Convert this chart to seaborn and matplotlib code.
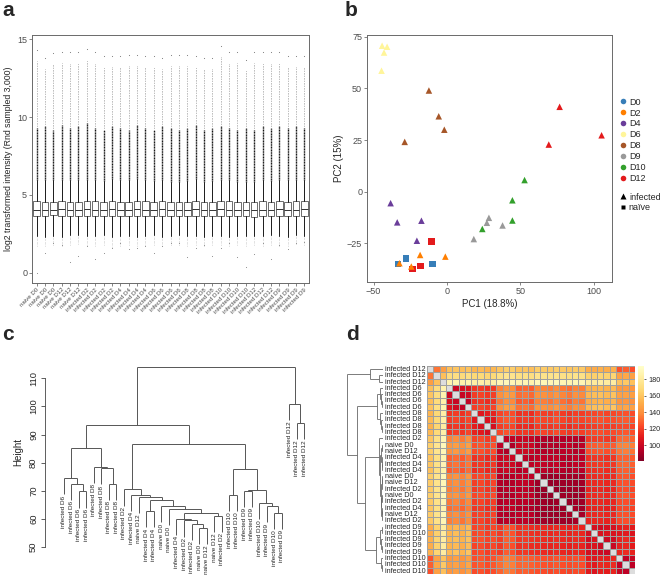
import numpy as np
import pandas as pd
import seaborn as sns
import matplotlib.pyplot as plt
from matplotlib.lines import Line2D
from matplotlib.collections import LineCollection
from matplotlib.transforms import blended_transform_factory

sns.set_theme(style="white")
plt.rcParams['font.family'] = ['Liberation Sans', 'DejaVu Sans']

# ---------------- data ----------------
# a: boxplot summaries per array (log2 intensity)
a_labels = (["naive D0"] * 3 + ["naive D12"] * 3 + ["infected D2"] * 4 + ["infected D4"] * 4
            + ["infected D6"] * 4 + ["infected D8"] * 4 + ["infected D10"] * 4
            + ["infected D12"] * 3 + ["infected D9"] * 4)
a_q1 = [3.66, 3.65, 3.68, 3.66, 3.67, 3.64, 3.66, 3.65, 3.67, 3.64, 3.66, 3.65, 3.64, 3.66,
        3.65, 3.66, 3.64, 3.65, 3.66, 3.64, 3.66, 3.62, 3.65, 3.64, 3.66, 3.63, 3.56, 3.64,
        3.65, 3.66, 3.64, 3.66, 3.65]
a_med = [4.05, 4.04, 4.06, 4.08, 4.05, 4.06, 4.07, 4.06, 4.05, 4.08, 4.06, 4.05, 4.07, 4.06,
         4.05, 4.07, 4.05, 4.04, 4.06, 4.08, 4.05, 4.04, 4.07, 4.06, 4.05, 4.04, 4.02, 4.06,
         4.05, 4.07, 4.05, 4.06, 4.07]
a_q3 = [4.58, 4.55, 4.57, 4.60, 4.55, 4.56, 4.60, 4.58, 4.56, 4.60, 4.57, 4.55, 4.60, 4.58,
        4.57, 4.60, 4.56, 4.55, 4.57, 4.62, 4.57, 4.55, 4.58, 4.60, 4.56, 4.55, 4.52, 4.58,
        4.56, 4.58, 4.57, 4.60, 4.60]
a_whi = [5.96, 5.98, 5.95, 5.97, 5.95, 5.96, 5.98, 5.97, 5.92, 6.00, 5.95, 5.93, 6.02, 5.95,
         5.90, 5.94, 5.86, 5.85, 5.88, 6.00, 5.86, 5.90, 5.95, 5.94, 5.86, 5.86, 5.82, 5.98,
         5.88, 5.96, 5.98, 5.95, 5.98]
a_wlo = [2.33, 2.30, 2.36, 2.32, 2.40, 2.45, 2.38, 2.33, 2.40, 2.28, 2.35, 2.36, 2.30, 2.38,
         2.40, 2.32, 2.36, 2.40, 2.34, 2.36, 2.30, 2.36, 2.38, 2.30, 2.36, 2.35, 2.38, 2.34,
         2.40, 2.34, 2.30, 2.42, 2.38]
a_dense = [9.3, 9.4, 9.2, 9.5, 9.3, 9.4, 9.6, 9.3, 9.2, 9.4, 9.3, 9.2, 9.5, 9.3,
           9.2, 9.4, 9.3, 9.2, 9.3, 9.5, 9.2, 9.3, 9.4, 9.3, 9.2, 9.3, 9.2, 9.4,
           9.3, 9.4, 9.3, 9.4, 9.3]
a_max = [14.3, 13.8, 14.1, 14.2, 14.2, 14.2, 14.4, 14.2, 13.9, 13.9, 13.9, 14.0, 14.0, 13.9,
         13.9, 13.8, 14.0, 14.0, 14.0, 13.9, 13.8, 13.8, 14.6, 14.2, 14.2, 13.7, 14.2, 14.2,
         14.2, 14.2, 13.9, 13.9, 13.9]
a_min = [0.0, 1.3, 1.9, 1.8, 0.7, 1.1, 1.7, 0.9, 1.3, 1.6, 1.9, 1.5, 1.6, 1.7,
         1.3, 1.7, 1.9, 1.9, 1.0, 1.6, 1.8, 1.1, 1.6, 1.9, 1.0, 0.4, 1.2, 1.9,
         0.9, 1.8, 1.5, 1.9, 2.0]

# b: PCA
b_pc1 = [-27.9, -33.5, -9.8, -10.7, -17.9, -23.4, -18.3, -1.1, -32.4, -24.3,
         -38.4, -33.9, -17.4, -20.5, -44.2, -40.8, -42.9, -44.6, -12.3, -5.6, -1.8, -28.8,
         28.6, 27.2, 37.9, 18.3, 52.9, 44.6, 44.6, 24.1, 76.8, 105.4, 69.4]
b_pc2 = [-32.3, -35.0, -35.0, -24.2, -36.0, -37.6, -30.7, -31.5, -34.7, -36.3,
         -5.6, -14.9, -14.1, -23.8, 70.7, 70.2, 67.4, 58.6, 49.0, 36.5, 30.0, 24.1,
         -12.7, -15.1, -16.4, -23.0, 5.6, -4.2, -14.0, -18.1, 41.1, 27.3, 22.8]
b_day = (["D0"] * 3 + ["D12"] * 3 + ["D2"] * 4 + ["D4"] * 4 + ["D6"] * 4 + ["D8"] * 4
         + ["D9"] * 4 + ["D10"] * 4 + ["D12"] * 3)
b_status = ["naïve"] * 6 + ["infected"] * 27
day_order = ["D0", "D2", "D4", "D6", "D8", "D9", "D10", "D12"]
day_colors = ["#377EB8", "#FF7F00", "#6A3D9A", "#FFF59A", "#A65628", "#999999", "#33A02C", "#E31A1C"]

# c: hierarchical clustering (leaf order, merges: left, right, height)
c_labels = (["infected D6"] * 4 + ["infected D8"] * 4
            + ["infected D2", "infected D4", "naive D12", "infected D4", "infected D4", "naive D0",
               "naive D0", "infected D4", "infected D2", "infected D2", "naive D0", "naive D12",
               "naive D12", "infected D2", "infected D10", "infected D10", "infected D9",
               "infected D9", "infected D10", "infected D9", "infected D10", "infected D9",
               "infected D12", "infected D12", "infected D12"])
c_merges = [(2, 3, 69.8), (1, 33, 72.6), (0, 34, 74.6), (6, 7, 72.6), (5, 36, 78.1),
            (4, 37, 78.6), (35, 38, 85.4), (18, 19, 56.9), (17, 40, 58.3), (16, 41, 59.5),
            (15, 42, 60.1), (20, 21, 61.2), (43, 44, 62.1), (14, 45, 63.5), (13, 46, 64.5),
            (11, 12, 62.8), (48, 47, 66.6), (10, 49, 67.8), (9, 50, 68.6), (8, 51, 70.5),
            (22, 23, 68.6), (24, 25, 70.0), (28, 29, 62.3), (27, 55, 64.6), (26, 56, 65.8),
            (54, 57, 70.3), (53, 58, 77.9), (52, 59, 86.6), (39, 60, 93.3), (31, 32, 94.0),
            (30, 62, 100.8), (61, 63, 114.1)]

# d: sample distance heatmap (row order, lower triangle, row dendrogram)
d_labels = (["infected D12"] * 3 + ["infected D6"] * 4 + ["infected D8"] * 4
            + ["infected D2", "naive D0", "naive D12", "infected D4", "infected D4", "infected D4",
               "naive D0", "naive D12", "infected D2", "naive D0", "infected D2", "infected D4",
               "naive D12", "infected D2", "infected D9", "infected D10", "infected D9",
               "infected D9", "infected D9", "infected D10", "infected D10", "infected D10"])
d_lower = [
    "",
    "133",
    "145 158",
    "158 170 186",
    "160 171 187 100",
    "157 169 185 104 99",
    "159 172 187 107 102 97",
    "154 167 183 117 119 116 120",
    "156 168 184 119 121 118 122 108",
    "153 166 182 116 118 115 119 111 106",
    "155 168 184 118 120 117 121 112 109 104",
    "160 173 188 136 139 134 140 121 123 119 122",
    "164 176 190 142 145 140 146 124 126 122 125 96",
    "163 175 189 140 143 138 144 123 125 121 124 97 92",
    "159 172 187 128 131 126 132 116 118 114 117 99 101 100",
    "160 173 188 130 133 128 134 117 119 115 118 100 102 101 95",
    "158 171 186 127 130 125 131 115 117 113 116 98 100 99 94 96",
    "163 175 190 138 141 136 142 121 123 119 122 94 93 94 97 98 96",
    "162 174 189 137 140 135 141 120 122 118 121 93 92 93 96 97 95 88",
    "161 174 188 135 138 133 139 119 121 117 120 92 94 95 95 96 94 87 86",
    "163 175 190 139 142 137 143 122 124 120 123 95 92 93 97 98 96 88 87 86",
    "161 173 188 134 137 132 138 119 121 117 120 93 95 95 94 95 93 89 88 87 88",
    "160 172 187 131 134 129 135 117 119 115 118 95 97 97 93 94 92 90 89 88 89 87",
    "162 174 189 137 140 135 141 120 122 118 121 94 93 93 96 97 95 89 88 88 87 89 90",
    "161 173 188 135 138 133 139 119 121 117 120 93 95 95 95 96 94 90 89 89 89 88 89 90",
    "151 165 181 152 155 150 156 121 123 119 122 118 126 124 116 117 115 114 113 112 114 112 111 113 112",
    "150 164 180 154 157 152 158 122 124 120 123 119 127 125 117 118 116 115 114 113 115 113 112 114 113 104",
    "152 166 182 155 158 153 159 123 125 121 124 120 128 126 118 119 117 116 115 114 116 114 113 115 114 103 106",
    "151 165 181 153 156 151 157 121 123 119 122 118 126 124 116 117 115 114 113 112 114 112 111 113 112 105 107 101",
    "152 166 182 156 159 154 160 122 124 120 123 119 127 125 117 118 116 115 114 113 115 113 112 114 113 104 106 102 100",
    "125 147 159 143 146 141 147 124 126 122 125 130 136 134 128 129 127 125 124 123 125 123 122 124 123 110 108 112 111 113",
    "128 149 161 144 147 142 148 125 127 123 126 131 137 135 129 130 128 126 125 124 126 124 123 125 124 112 109 114 113 115 97",
    "124 146 158 142 145 140 146 123 125 121 124 129 135 133 127 128 126 124 123 122 124 122 121 123 122 109 107 111 110 112 99 96",
]
d_merges = [(1, 2, 12), (0, 33, 37), (5, 6, 4), (4, 35, 6), (3, 36, 9), (9, 10, 4),
            (8, 38, 6), (7, 39, 9), (37, 40, 17), (12, 13, 3), (15, 16, 2), (14, 43, 4),
            (42, 44, 7), (17, 18, 2), (46, 19, 3), (20, 21, 2.5), (22, 23, 2), (49, 24, 3.5),
            (48, 50, 4.5), (47, 51, 5.5), (45, 52, 9), (11, 53, 12), (25, 26, 4), (28, 29, 3),
            (27, 56, 5), (55, 57, 8), (31, 32, 3), (30, 59, 6), (58, 60, 19), (54, 61, 52),
            (41, 62, 77), (34, 63, 104)]

# ---------------- helpers ----------------
W, H = 660, 580
fig = plt.figure(figsize=(6.6, 5.8), dpi=100)


def px_axes(x0, y0, x1, y1):
    return fig.add_axes([x0 / W, 1 - y1 / H, (x1 - x0) / W, (y1 - y0) / H])


def dendro_lines(merges, n, hang=None):
    pos = [float(i) for i in range(n)]
    top = [None] * n
    segs = []
    leaf_end = [0.0] * n
    for a, b, h in merges:
        for c in (a, b):
            if c < n:
                lo = h - hang if hang is not None else 0.0
                leaf_end[c] = lo
            else:
                lo = top[c]
            segs.append([(pos[c], lo), (pos[c], h)])
        segs.append([(pos[a], h), (pos[b], h)])
        pos.append((pos[a] + pos[b]) / 2)
        top.append(h)
    return segs, leaf_end


grey_txt = "#4D4D4D"
letter_kw = dict(fontsize=15, fontweight="bold", va="top", ha="left")
fig.text(2 / W, 1 - 1 / H, "a", **letter_kw)
fig.text(345 / W, 1 - 1 / H, "b", **letter_kw)
fig.text(2 / W, 1 - 325 / H, "c", **letter_kw)
fig.text(346 / W, 1 - 325 / H, "d", **letter_kw)

# ---------------- a ----------------
ax = px_axes(32, 35, 309, 283)
n_a = len(a_labels)
xs = np.arange(n_a)
stats = [dict(med=a_med[i], q1=a_q1[i], q3=a_q3[i], whislo=a_wlo[i], whishi=a_whi[i], fliers=[])
         for i in range(n_a)]
ax.vlines(xs, a_whi, a_dense, colors="#111111", lw=1.0, linestyles=(0, (0.8, 0.35)))
ax.vlines(xs, a_dense, np.array(a_max) - 0.7, colors="#6a6a6a", lw=0.6, linestyles=(0, (0.6, 1.4)))
ax.scatter(xs, a_max, s=0.6, color="#777777", lw=0)
ax.vlines(xs, np.array(a_wlo) - 0.6, a_wlo, colors="#888888", lw=0.5, linestyles=(0, (0.5, 1.5)))
ax.scatter(xs, a_min, s=0.6, color="#888888", lw=0)
ax.bxp(stats, positions=xs, widths=0.78, showfliers=False, showcaps=False, patch_artist=True,
       boxprops=dict(facecolor="white", edgecolor="#555555", lw=0.6),
       medianprops=dict(color="#333333", lw=0.7),
       whiskerprops=dict(color="#1a1a1a", lw=0.7))
ax.set_xlim(-0.55, n_a - 0.45)
ax.set_ylim(-0.66, 15.28)
ax.set_yticks([0, 5, 10, 15])
ax.set_xticks(xs)
ax.set_xticklabels(a_labels, rotation=45, ha="right", rotation_mode="anchor",
                   fontsize=4.4, color=grey_txt)
ax.tick_params(axis="y", labelsize=6.5, labelcolor=grey_txt, length=2, width=0.5,
               color="#555555", pad=1.5, left=True)
ax.tick_params(axis="x", length=2, width=0.5, color="#555555", pad=1, bottom=True)
ax.set_ylabel("log2 transformed intensity (Rnd sampled 3,000)", fontsize=6.3, labelpad=3)
for s in ax.spines.values():
    s.set_color("#6a6a6a")
    s.set_linewidth(0.7)

# ---------------- b ----------------
ax = px_axes(367, 35, 612, 282)
df_b = pd.DataFrame({"PC1": b_pc1, "PC2": b_pc2, "day": b_day, "status": b_status})
pal = dict(zip(day_order, day_colors))
sns.scatterplot(data=df_b, x="PC1", y="PC2", hue="day", style="status", hue_order=day_order,
                palette=pal, markers={"infected": "^", "naïve": "s"}, s=22, linewidth=0,
                legend=False, ax=ax)
ax.set_xlim(-54.5, 112.5)
ax.set_ylim(-43.8, 75.9)
ax.set_xticks([-50, 0, 50, 100])
ax.set_yticks([-25, 0, 25, 50, 75])
ax.tick_params(labelsize=6.5, labelcolor=grey_txt, length=2, width=0.5, color="#555555",
               pad=1.5, left=True, bottom=True)
ax.set_xlabel("PC1 (18.8%)", fontsize=7, labelpad=2)
ax.set_ylabel("PC2 (15%)", fontsize=7, labelpad=2)
for s in ax.spines.values():
    s.set_color("#6a6a6a")
    s.set_linewidth(0.7)
h_day = [Line2D([], [], ls="none", marker="o", ms=4, mec="none", mfc=c, label=d)
         for d, c in zip(day_order, day_colors)]
h_st = [Line2D([], [], ls="none", marker="^", ms=4, mec="none", mfc="black", label="infected"),
        Line2D([], [], ls="none", marker="s", ms=3.5, mec="none", mfc="black", label="naïve")]
leg_kw = dict(loc="upper left", bbox_transform=fig.transFigure, frameon=False, fontsize=6.5,
              handletextpad=0.15, labelspacing=0.22, handlelength=1.0, borderpad=0)
leg1 = ax.legend(handles=h_day, bbox_to_anchor=(614 / W, 1 - 93 / H), **leg_kw)
ax.add_artist(leg1)
ax.legend(handles=h_st, bbox_to_anchor=(614 / W, 1 - 188 / H), **leg_kw)

# ---------------- c ----------------
ax = px_axes(45, 355, 320, 548)
n_c = len(c_labels)
heights = [m[2] for m in c_merges]
hang = 0.1 * (max(heights) - min(heights))
segs, leaf_end = dendro_lines(c_merges, n_c, hang)
ax.add_collection(LineCollection(segs, colors="#555555", linewidths=0.7))
for i, lab in enumerate(c_labels):
    ax.text(i, leaf_end[i] - 0.5, lab, rotation=90, ha="center", va="top", fontsize=4.6,
            clip_on=False)
ax.set_xlim(-2.53, 34.13)
ax.set_ylim(49.7, 118.3)
ax.set_xticks([])
ax.set_yticks([50, 60, 70, 80, 90, 100, 110])
ax.set_yticklabels(["50", "60", "70", "80", "90", "100", "110"], rotation=90, va="center")
ax.tick_params(axis="y", labelsize=6.8, length=3, width=0.6, color="#444444", pad=2, left=True)
for k in ("top", "right", "bottom"):
    ax.spines[k].set_visible(False)
ax.spines["left"].set_bounds(50, 110)
ax.spines["left"].set_color("#444444")
ax.spines["left"].set_linewidth(0.6)
ax.set_ylabel("Height", fontsize=7, labelpad=4)
ax.patch.set_alpha(0)

# ---------------- d ----------------
n_d = len(d_labels)
dist = np.full((n_d, n_d), np.nan)
for i, row in enumerate(d_lower):
    for j, v in enumerate(row.split()):
        dist[i, j] = float(v)
        dist[j, i] = float(v)
df_d = pd.DataFrame(dist, index=d_labels, columns=d_labels)

axh = px_axes(427, 366, 635, 574)
axc = px_axes(638, 366, 644, 461)
axh.set_facecolor("#DDDDDD")
sns.heatmap(df_d, ax=axh, cbar_ax=axc, cmap="YlOrRd_r", vmin=81, vmax=196,
            linewidths=0.4, linecolor="#a0a0a0", xticklabels=False, yticklabels=False)
axh.set_xlabel("")
axh.set_ylabel("")
cb = axh.collections[0].colorbar
cb.outline.set_visible(False)
cb.set_ticks([100, 120, 140, 160, 180])
axc.tick_params(labelsize=5.2, length=1.5, width=0.5, pad=1.5, right=True)

trans = blended_transform_factory(fig.transFigure, axh.transData)
for i, lab in enumerate(d_labels):
    axh.text(385 / W, i + 0.55, lab, transform=trans, ha="left", va="center",
             fontsize=5.2, clip_on=False)

axd = px_axes(347, 366, 383, 574)
segs, _ = dendro_lines(d_merges, n_d)
segs = [[(h, p + 0.5) for p, h in s] for s in segs]
axd.add_collection(LineCollection(segs, colors="#666666", linewidths=0.6))
axd.set_xlim(105, 0)
axd.set_ylim(n_d, 0)
axd.axis("off")

fig.savefig("out.png", dpi=100)
